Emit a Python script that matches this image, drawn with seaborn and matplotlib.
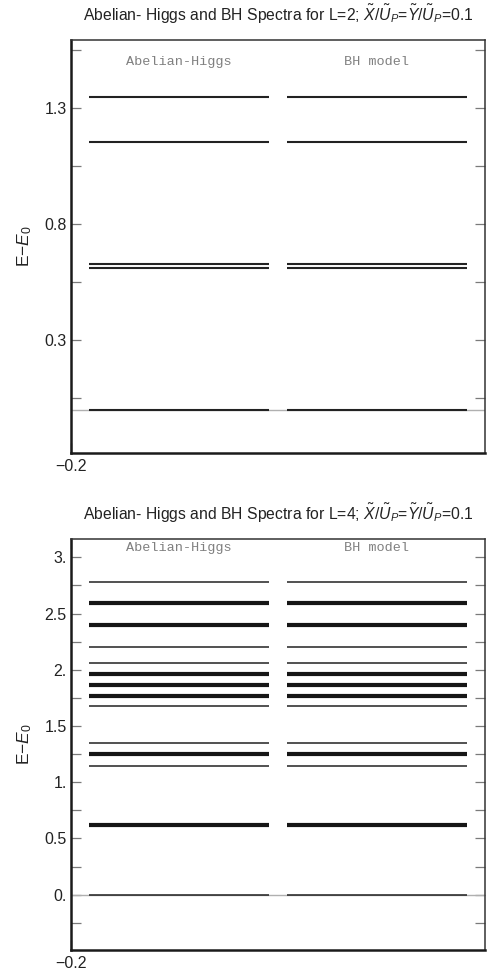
import matplotlib
matplotlib.use("Agg")
import matplotlib.pyplot as plt
import seaborn as sns
import pandas as pd

# ---------------- data ----------------
models = ["Abelian-Higgs", "BH model"]

levels_L2 = [1.347, 1.153, 0.627, 0.612, 0.0]
degen_L2 = [1, 1, 1, 1, 1]

levels_L4 = [2.783, 2.591, 2.395, 2.199, 2.062, 1.964, 1.867, 1.769,
             1.677, 1.345, 1.248, 1.147, 0.620, 0.0]
degen_L4 = [1, 2, 2, 1, 1, 2, 2, 2, 1, 1, 2, 1, 2, 1]

yticks_L2 = [0.3, 0.8, 1.3]
yticklabels_L2 = ["0.3", "0.8", "1.3"]
yminor_L2 = [0.05, 0.55, 1.05, 1.55]

yticks_L4 = [0.0, 0.5, 1.0, 1.5, 2.0, 2.5, 3.0]
yticklabels_L4 = ["0.", "0.5", "1.", "1.5", "2.", "2.5", "3."]
yminor_L4 = [-0.25, 0.25, 0.75, 1.25, 1.75, 2.25, 2.75]

xticks = [-0.2]
xticklabels = ["\u22120.2"]

titles = [
    r"Abelian- Higgs and BH Spectra for L=2; $\tilde{X}/\tilde{U}_P$=$\tilde{Y}/\tilde{U}_P$=0.1",
    r"Abelian- Higgs and BH Spectra for L=4; $\tilde{X}/\tilde{U}_P$=$\tilde{Y}/\tilde{U}_P$=0.1",
]

# ---------------- style ----------------
sns.set_theme(style="white")
plt.rcParams["font.family"] = ["Liberation Sans", "DejaVu Sans"]
plt.rcParams["mathtext.fontset"] = "custom"
plt.rcParams["mathtext.rm"] = "Liberation Sans"
plt.rcParams["mathtext.it"] = "Liberation Sans:italic"
plt.rcParams["mathtext.bf"] = "Liberation Sans:bold"

fig = plt.figure(figsize=(4.87, 9.73), dpi=100)

W, H = 487, 973
def axrect(l, t, r, b):
    return [l / W, 1 - b / H, (r - l) / W, (b - t) / H]

ax1 = fig.add_axes(axrect(71, 40, 485, 453))
ax2 = fig.add_axes(axrect(71, 539, 485, 950))

seg_starts = [0.0, 2.2]
seg_len = 2.0
label_x = [1.0, 3.2]


def draw_panel(ax, levels, degen, ylim, yticks, yticklabels, yminor,
               title, label_y, thin_lw, thick_lw):
    rows = []
    for mi, m in enumerate(models):
        for lv, d in zip(levels, degen):
            rows.append(dict(model=m, x0=seg_starts[mi],
                             x1=seg_starts[mi] + seg_len, E=lv, deg=d))
    df = pd.DataFrame(rows)
    ax.axhline(0.0, color="#b0b0b0", lw=1.0, zorder=1)
    for d, sub in df.groupby("deg"):
        lw = thin_lw if d == 1 else thick_lw
        col = "#222222" if d == 1 else "#161616"
        ax.hlines(sub["E"], sub["x0"], sub["x1"], colors=col, lw=lw,
                  zorder=3, capstyle="butt")
    for mi, m in enumerate(models):
        ax.text(label_x[mi], label_y, m, ha="center", va="center",
                family=["Liberation Mono", "DejaVu Sans Mono"],
                fontsize=9.7, color="#808080")
    ax.set_xlim(-0.2, 4.4)
    ax.set_ylim(*ylim)
    ax.set_yticks(yticks)
    ax.set_yticklabels(yticklabels)
    ax.set_yticks(yminor, minor=True)
    ax.set_xticks(xticks)
    ax.set_xticklabels(xticklabels)
    ax.tick_params(axis="y", which="both", direction="in", length=7.5,
                   width=0.9, color="#7a7a7a", left=True, right=True,
                   labelsize=11.5, labelcolor="#222222", pad=3)
    ax.tick_params(axis="x", which="both", direction="in", length=7.5,
                   width=0.9, color="#333333", bottom=True, top=True,
                   labelsize=11.5, labelcolor="#222222", pad=4)
    for side in ["left", "bottom"]:
        ax.spines[side].set_linewidth(1.8)
        ax.spines[side].set_color("#1a1a1a")
    for side in ["top", "right"]:
        ax.spines[side].set_linewidth(1.1)
        ax.spines[side].set_color("#333333")
    ax.set_ylabel(r"E$-$$E_0$", fontsize=12.5, color="#222222")
    ax.yaxis.set_label_coords(-0.09, 0.5)
    ax.set_title(title, fontsize=11.3, color="#222222", pad=14)


draw_panel(ax1, levels_L2, degen_L2, (-0.186, 1.591), yticks_L2,
           yticklabels_L2, yminor_L2, titles[0], 1.497, 1.5, 3.0)
draw_panel(ax2, levels_L4, degen_L4, (-0.492, 3.163), yticks_L4,
           yticklabels_L4, yminor_L4, titles[1], 3.083, 1.1, 3.0)

fig.savefig("out.png", dpi=100)
